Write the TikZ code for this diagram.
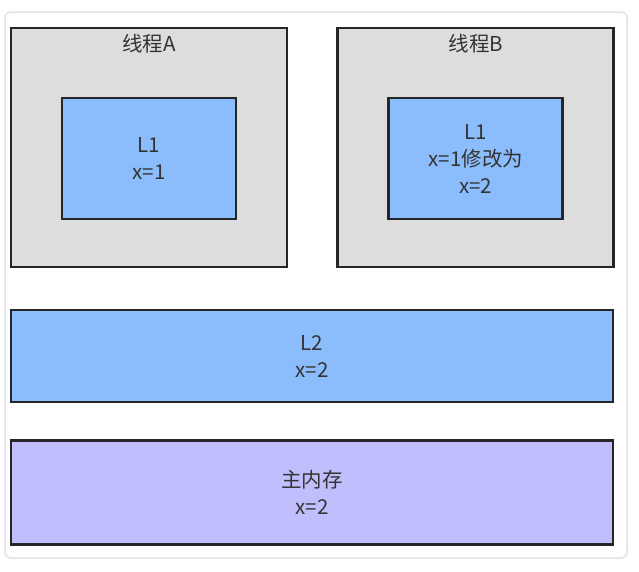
\documentclass[tikz,border=0pt]{standalone}
\usepackage{fontspec}
\setmainfont{Noto Sans CJK SC}
\usetikzlibrary{positioning}

\definecolor{threadgray}{HTML}{DDDDDD}
\definecolor{cacheblue}{HTML}{8BBDFD}
\definecolor{mempurple}{HTML}{C0BEFD}
\definecolor{framegray}{HTML}{E2E2E2}
\definecolor{textgray}{HTML}{333333}

\begin{document}
\begin{tikzpicture}[
    x=1pt, y=-1pt,
    font=\fontsize{20.5}{27}\selectfont, text=textgray,
    box/.style={rectangle, draw=black!85, line width=2.8pt, align=center, inner sep=0pt},
    thread/.style={box, fill=threadgray, minimum width=276pt, minimum height=239pt},
    cache/.style={box, fill=cacheblue, minimum width=174pt, minimum height=121pt},
    shared/.style={box, minimum width=602pt}
]
\useasboundingbox (0,0) rectangle (639,571);
\draw[framegray, line width=1.5pt, fill=white, rounded corners=6pt] (5,12) rectangle (627,558);

\node[thread] (threadA) at (149,147.5) {};
\node[thread, right=48pt of threadA] (threadB) {};
\node[below=17pt of threadA.north, anchor=center] (titleA) {线程A};
\node[below=17pt of threadB.north, anchor=center] (titleB) {线程B};

\node[cache] (l1A) at ([yshift=-11pt]threadA.center) {L1\\x=1};
\node[cache] (l1B) at ([yshift=-11pt]threadB.center) {L1\\x=1修改为\\x=2};

\node[shared, fill=cacheblue, minimum height=92pt] (l2) at (312,356) {L2\\x=2};
\node[shared, fill=mempurple, minimum height=104pt, below=36pt of l2] (mem) {主内存\\x=2};

\end{tikzpicture}
\end{document}
